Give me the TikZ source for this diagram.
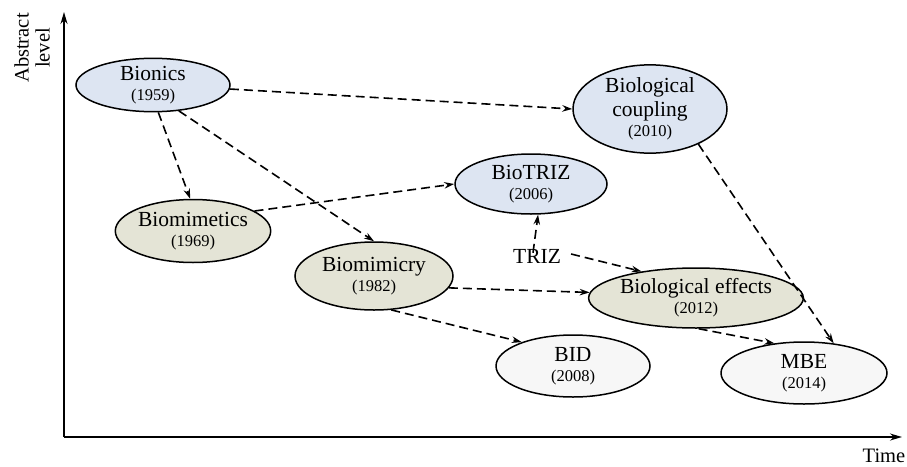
\documentclass[tikz,border=0pt]{standalone}
\usepackage{fontspec}
\setmainfont{Liberation Serif}
\usetikzlibrary{shapes.geometric,arrows.meta}
\definecolor{bluefill}{HTML}{DDE5F2}
\definecolor{olivefill}{HTML}{E4E4D6}
\definecolor{whitefill}{HTML}{F7F7F7}
\tikzset{
  bub/.style={ellipse,draw=black,line width=1.5pt,inner sep=0pt,align=center,
    font=\fontsize{21.5}{20}\selectfont},
  blue/.style={bub,fill=bluefill},
  olive/.style={bub,fill=olivefill},
  pale/.style={bub,fill=whitefill},
  link/.style={dash pattern=on 9pt off 5pt,line width=1.6pt,-{Stealth[length=10pt,width=6.5pt]}},
  axis/.style={line width=1.7pt,-{Stealth[length=12pt,width=7pt]}},
  lbl/.style={font=\fontsize{20.5}{21}\selectfont,inner sep=0pt,align=center}
}
\newcommand{\yr}[1]{{\fontsize{16.5}{18}\selectfont #1}}
\begin{document}
\begin{tikzpicture}[x=1pt,y=-1pt]
\useasboundingbox (0,0) rectangle (907,466);
% axes
\coordinate (o) at (64,437);
\coordinate (ytop) at (64,12);
\coordinate (xend) at (902,437);
\draw[axis] (o) -- (ytop);
\draw[axis] (o) -- (xend);
\node[lbl,rotate=90] (ylab) at (32,48) {Abstract\\level};
\node[lbl] (xlab) at (884,456) {Time};
% nodes
\node[blue,minimum width=154pt,minimum height=50pt] (bionics) at (153,85) {Bionics\\\yr{(1959)}};
\node[olive,minimum width=154pt,minimum height=63pt] (biomimetics) at (193,231) {Biomimetics\\\yr{(1969)}};
\node[olive,minimum width=158pt,minimum height=68pt] (biomimicry) at (374,276) {Biomimicry\\\yr{(1982)}};
\node[blue,minimum width=152pt,minimum height=60pt] (biotriz) at (531,184) {BioTRIZ\\\yr{(2006)}};
\node[blue,minimum width=154pt,minimum height=80pt] (coupling) at (650,109) {Biological\\[4pt]coupling\\\yr{(2010)}};
\node[olive,minimum width=174pt,minimum height=60pt] (effects) at (696,298) {Biological effects\\\yr{(2012)}};
\node[pale,minimum width=154pt,minimum height=62pt] (bid) at (573,366) {BID\\\yr{(2008)}};
\node[pale,minimum width=166pt,minimum height=62pt] (mbe) at (804,373) {MBE\\\yr{(2014)}};
\node[font=\fontsize{21.5}{22}\selectfont,inner sep=0pt] (triz) at (537,256) {TRIZ};
% links
\draw[link] (bionics.-3) -- (coupling.180);
\draw[link] (bionics.-79) -- (biomimetics.95);
\draw[link] (bionics.-45) -- (biomimicry.90);
\draw[link] (biomimetics.18) -- (biotriz.180);
\draw[link] ([xshift=-4pt,yshift=-4pt]triz.north) -- (biotriz.-77);
\draw[link] ([xshift=10pt,yshift=2pt]triz.east) -- (effects.154);
\draw[link] (biomimicry.-9) -- (effects.177);
\draw[link] (biomimicry.-63) -- (bid.155);
\draw[link] (effects.-85) -- (mbe.135);
\draw[link] (coupling.-36) -- (mbe.45);
\end{tikzpicture}
\end{document}
